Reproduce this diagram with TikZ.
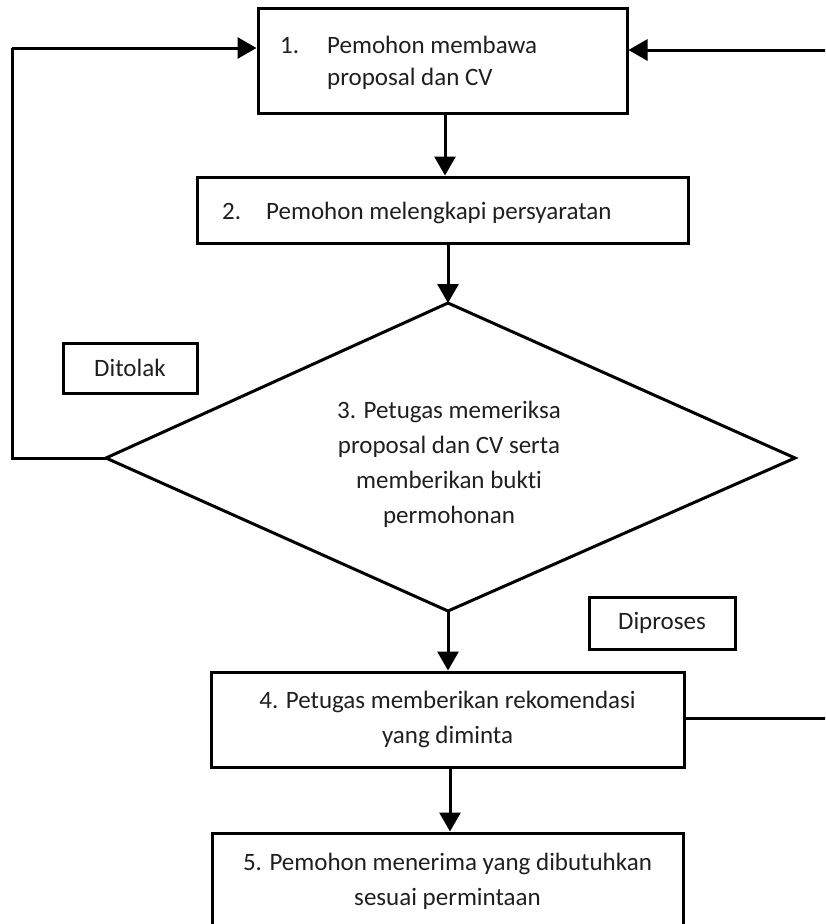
\documentclass[tikz,border=0pt]{standalone}
\usepackage{fontspec}
\setmainfont[Ligatures=NoCommon]{Carlito}
\usetikzlibrary{arrows.meta}
\tikzset{
  box/.style={draw, line width=3pt, inner sep=0pt, rectangle},
  lbl/.style={inner sep=0pt, font=\fontsize{25}{35}\selectfont, align=center, text=black!88},
  conn/.style={line width=3pt},
  arr/.style={line width=3pt, -{Triangle[width=21pt,length=19pt]}},
}
\begin{document}
\begin{tikzpicture}[x=1pt,y=-1pt]
\useasboundingbox (0,0) rectangle (825,924);
\clip (0,0) rectangle (825,924);
% boxes
\node[box, minimum width=369pt, minimum height=105pt] (b1) at (442.5,60.5) {};
\node[lbl, anchor=base west] (b1n) at (280,53) {1.};
\node[lbl, anchor=base west] (b1t) at (327,53) {Pemohon membawa};
\node[lbl, anchor=base west] (b1u) at (327,85) {proposal dan CV};
\node[box, minimum width=491pt, minimum height=66pt] (b2) at (442.5,210) {};
\node[lbl, anchor=base west] (b2n) at (222,219) {2.};
\node[lbl, anchor=base west] (b2t) at (266,219) {Pemohon melengkapi persyaratan};
% diamond
\coordinate (dt) at (448,303);
\coordinate (dl) at (106,458);
\coordinate (dr) at (795,458);
\coordinate (db) at (448,611);
\draw[conn, line join=miter] (dt) -- (dr) -- (db) -- (dl) -- cycle;
\node[lbl] (d3) at (449,464) {3. Petugas memeriksa\\proposal dan CV serta\\memberikan bukti\\permohonan};
\node[box, minimum width=134pt, minimum height=50pt, lbl] (tol) at (130,368) {Ditolak};
\node[box, minimum width=146pt, minimum height=52pt, lbl] (pro) at (662,623) {Diproses};
\node[box, minimum width=473pt, minimum height=95pt] (b4) at (447.5,719.5) {};
\node[lbl] (b4t) at (447.5,719) {4. Petugas memberikan rekomendasi\\yang diminta};
\node[box, minimum width=471pt, minimum height=180pt] (b5) at (447.5,923) {};
\node[lbl] (b5t) at (447.5,881) {5. Pemohon menerima yang dibutuhkan\\sesuai permintaan};
% connectors
\draw[arr] (b1.south -| 445,0) -- (b2.north -| 445,0);
\draw[arr] (b2.south -| 448,0) -- (dt);
\draw[arr] (db) -- (b4.north -| 448,0);
\draw[arr] (b4.south -| 450,0) -- (b5.north -| 450,0);
\coordinate (lc) at (12,458);
\coordinate (lt) at (12,48);
\draw[conn] (dl) -- (lc) -- (lt);
\draw[arr] (lt) -- (b1.west |- 0,48);
\coordinate (rt) at (830,50);
\draw[arr] (rt) -- (b1.east |- 0,50);
\coordinate (rb) at (830,718);
\draw[conn] (b4.east |- 0,718) -- (rb);
\end{tikzpicture}
\end{document}
